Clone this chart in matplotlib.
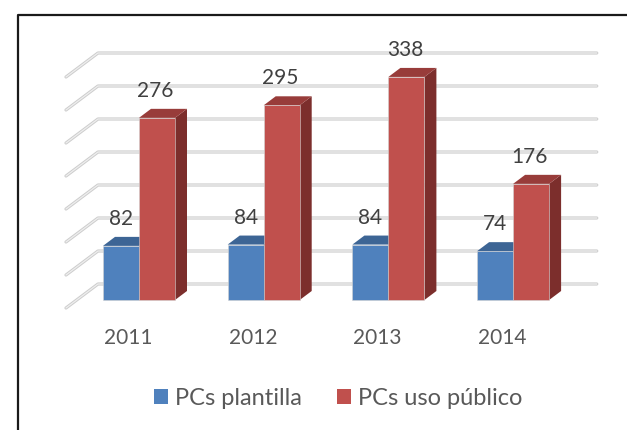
import matplotlib
matplotlib.use("Agg")
import matplotlib.pyplot as plt
from matplotlib.patches import Polygon, Patch
from matplotlib.lines import Line2D

years = ['2011', '2012', '2013', '2014']
plantilla = [82, 84, 84, 74]
uso_publico = [276, 295, 338, 176]
grid_values = [0, 50, 100, 150, 200, 250, 300, 350]
series_names = ['PCs plantilla', 'PCs uso público']

plt.rcParams['font.family'] = ['Lato', 'DejaVu Sans']

W, H = 627, 430
fig = plt.figure(figsize=(W / 100, H / 100), dpi=100)
ax = fig.add_axes([0, 0, 1, 1])
ax.set_axis_off()

# layout (pixel scale of the oblique projection)
PX_X = 124.7      # pixels per category
PX_Y = 0.66       # pixels per value unit
X0, Y0 = 139, 300  # pixel position of first category centre / baseline
ax.set_xlim(-X0 / PX_X, (W - X0) / PX_X)
ax.set_ylim((Y0 - H) / PX_Y, Y0 / PX_Y)


def depth(d):
    """oblique offset for a depth of d pixels (data units)"""
    return (4.0 / 3.0 * d / PX_X, d / PX_Y)


BACK = 16     # back wall depth (px)
FRONT = -8    # floor front depth (px)
BAR_D = 9     # bar depth (px)
BAR_W = 36 / PX_X

# gridlines on back wall and left wall
bx, by = depth(BACK)
fx, fy = depth(FRONT)
x_left, x_right = -0.5, len(years) - 0.5
for g in grid_values:
    xs = [x_left + fx, x_left + bx, x_right + bx]
    ys = [g + fy, g + by, g + by]
    ax.plot(xs, ys, color='#cdcdcd', lw=2.3, solid_capstyle='round', zorder=1)
    ax.plot(xs, ys, color='#eeeeee', lw=0.9, solid_capstyle='round', zorder=1.1)

colors = {
    'blue': ('#4f81bd', '#3d6595', '#2f4f76'),
    'red': ('#c0504d', '#983c3a', '#7c2e2c'),
}


def bar3d(x0, v, cols, z):
    front, top, side = cols
    dx, dy = depth(BAR_D)
    x1 = x0 + BAR_W
    ax.add_patch(Polygon([(x1, 0), (x1 + dx, dy), (x1 + dx, v + dy), (x1, v)],
                         closed=True, facecolor=side, edgecolor='none', zorder=z))
    ax.add_patch(Polygon([(x0, v), (x1, v), (x1 + dx, v + dy), (x0 + dx, v + dy)],
                         closed=True, facecolor=top, edgecolor='none', zorder=z))
    ax.add_patch(Polygon([(x0, 0), (x1, 0), (x1, v), (x0, v)],
                         closed=True, facecolor=front, edgecolor='#d4d4d4',
                         lw=0.4, zorder=z + 0.1))


label_off = 27 / PX_Y
for i, (a, b) in enumerate(zip(plantilla, uso_publico)):
    bar3d(i - BAR_W, a, colors['blue'], 2 + i * 0.5)
    bar3d(i, b, colors['red'], 2.2 + i * 0.5)
    ax.text(i - BAR_W / 2, a + label_off, str(a), ha='center', va='center',
            fontsize=15, color='#404040', zorder=10)
    ax.text(i + BAR_W / 2 - 1.5 / PX_X, b + label_off, str(b), ha='center', va='center',
            fontsize=15, color='#404040', zorder=10)
    ax.text(i + fx, (Y0 - 338) / PX_Y, years[i], ha='center', va='center',
            fontsize=15, color='#595959')

handles = [Patch(facecolor=colors['blue'][0]), Patch(facecolor=colors['red'][0])]
fig.legend(handles, series_names, loc='center', bbox_to_anchor=(0.539, 0.073),
           ncol=2, frameon=False, fontsize=17, labelcolor='#595959',
           handlelength=0.58, handleheight=0.58, handletextpad=0.3,
           columnspacing=1.5)

# chart border (left and top edges visible)
fig.add_artist(Line2D([18 / W, 18 / W, 1.0], [0.0, 1 - 15 / H, 1 - 15 / H],
                      transform=fig.transFigure, color='#1a1a1a', lw=1.6))

fig.savefig('out.png', dpi=100)
